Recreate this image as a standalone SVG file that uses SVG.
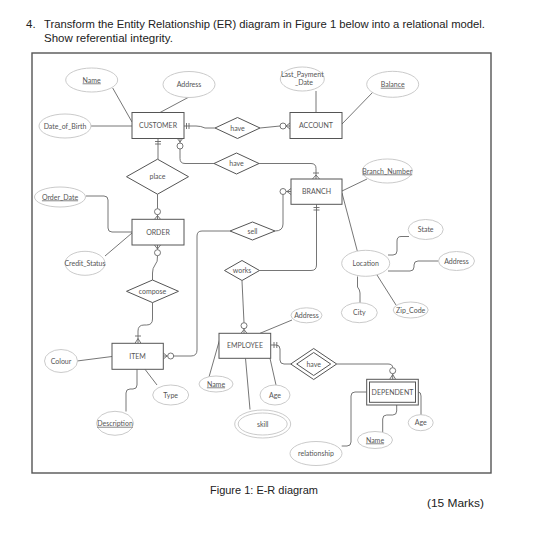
<svg xmlns="http://www.w3.org/2000/svg" width="538" height="539" viewBox="0 0 538 539">
<style>
.bg{fill:#fff}
.frame{fill:none;stroke:#555;stroke-width:1.4}
.q{font-family:"Liberation Sans",Arial,sans-serif;fill:#222}
.attr ellipse{fill:#fff;stroke:#c4c4c4;stroke-width:0.9}
.ent rect{fill:#fff;stroke:#555;stroke-width:1}
.rel polygon{fill:#fff;stroke:#555;stroke-width:1}
.lbl{font-family:Lato,"Open Sans",sans-serif;font-size:7px;fill:#555;text-anchor:middle}
.u{text-decoration:underline}
.conn path,.conn line{fill:none;stroke:#666;stroke-width:0.9}
.conn circle{fill:#fff;stroke:#666;stroke-width:0.9}
</style>
<rect class="bg" x="0" y="0" width="538" height="539"/>
<text class="q" x="26" y="28" font-size="11.5">4.</text>
<text class="q" x="44" y="28" font-size="11.5" textLength="441" lengthAdjust="spacingAndGlyphs">Transform the Entity Relationship (ER) diagram in Figure 1 below into a relational model.</text>
<text class="q" x="44" y="42" font-size="11.5">Show referential integrity.</text>
<rect class="frame" x="32" y="53" width="459" height="420"/>
<text class="q" x="210" y="494" font-size="11.5" textLength="108" lengthAdjust="spacingAndGlyphs">Figure 1: E-R diagram</text>
<text class="q" x="427" y="507" font-size="11.5" textLength="57" lengthAdjust="spacingAndGlyphs">(15 Marks)</text>

<g class="conn">
<path d="M112.7,88 L132,122"/>
<path d="M189,97 L160,112.5"/>
<path d="M91,126 H132"/>
<path d="M184,126 H196 Q201,126 205,128 H215"/>
<line x1="186.5" y1="123" x2="186.5" y2="129"/><line x1="189" y1="123" x2="189" y2="129"/>
<path d="M260,128 L280,126"/>
<circle cx="283" cy="126" r="3"/>
<path d="M286,126 H290 M286,126 L290,123 M286,126 L290,129"/>
<path d="M180,138 V143 M180,142 L177,138 M180,142 L183,138"/>
<circle cx="180" cy="146" r="3"/>
<path d="M180,149 V158.5 Q180,163.5 185,163.5 H214"/>
<path d="M259,163.5 H311 Q316,163.5 316,168.5 V179"/>
<path d="M313,173 H319 M316,175 L312.5,179 M316,175 L319.5,179"/>
<path d="M316,91 V112.5"/>
<path d="M342,124 L373,92"/>
<path d="M342,191 L367,179"/>
<circle cx="283" cy="191.5" r="3"/>
<path d="M286,191.5 H291 M287,191.5 L291,188.5 M287,191.5 L291,194.5"/>
<path d="M283,194.5 V224 Q283,231 275,231"/>
<path d="M230,231 H202 Q197,231 197,236 V350 Q197,356 191,356 H173.7"/>
<circle cx="170.7" cy="356" r="3"/>
<path d="M167.7,356 H163.3 M167,356 L163.3,353 M167,356 L163.3,359"/>
<path d="M158,138.5 V159.2"/>
<line x1="155" y1="141.5" x2="161" y2="141.5"/><line x1="155" y1="144" x2="161" y2="144"/>
<path d="M157.5,194.2 V208.7"/>
<circle cx="157.5" cy="211.7" r="3"/>
<path d="M157.5,214.7 V219.3 M157.5,215.5 L154.5,219.3 M157.5,215.5 L160.5,219.3"/>
<path d="M157.5,245 V249.7 M157.5,249 L154.5,245 M157.5,249 L160.5,245"/>
<circle cx="157.5" cy="252.7" r="3"/>
<path d="M157.5,255.7 Q158,262 155,265 Q152.5,268 152.5,273 V280"/>
<path d="M152.5,302.6 V319 Q152.5,325 146.5,325 H144 Q138,325 138,331 V343.3"/>
<path d="M135,336 H141 M138,338.5 L135,343.3 M138,338.5 L141,343.3"/>
<path d="M77,361 L112,356.5"/>
<path d="M145,369.3 L157,385"/>
<path d="M137,369.3 V385 Q137,389 133,389 H130 Q126,389 126,393 V411.5"/>
<path d="M86,196 H104 Q108,196 108,200 V228 Q108,232 112,232 H132"/>
<path d="M105,256 L132,233"/>
<path d="M316.5,204.3 V265 Q316.5,270.5 311,270.5 H259.5"/>
<line x1="313.5" y1="207.5" x2="319.5" y2="207.5"/><line x1="313.5" y1="210" x2="319.5" y2="210"/>
<path d="M242,281 L244,322.7"/>
<circle cx="244" cy="325.7" r="3"/>
<path d="M244,328.7 V333.3 M244,329.5 L241,333.3 M244,329.5 L247,333.3"/>
<path d="M260,333.3 L292,320"/>
<path d="M219.5,340 L209,377"/>
<path d="M270,358.3 L276,385"/>
<path d="M245.5,358.3 L250,409.5"/>
<path d="M270.7,345 H276 Q280,345 280,349 V360 Q280,364 284,364 H290.7"/>
<line x1="274" y1="342" x2="274" y2="348"/><line x1="276.8" y1="342" x2="276.8" y2="348"/>
<path d="M336.7,364 H388 Q392.7,364 392.7,367.7"/>
<circle cx="392.7" cy="370.7" r="3"/>
<path d="M392.7,373.7 V379.3 M392.7,374.5 L389.7,379.3 M392.7,374.5 L395.7,379.3"/>
<path d="M418.3,392 Q421,392 421,396 V415"/>
<path d="M396.7,405 V411 Q396.7,415 392.7,415 H386.7 Q382.7,415 382.7,419 V432"/>
<path d="M341.7,446 H347 Q351,446 351,442 V396 Q351,392 355,392 H366.7"/>
<path d="M342,193 L357.3,251"/>
<path d="M388,255 H393 Q397,255 397,251 V241 Q397,236.5 401,236.5 H409"/>
<path d="M388,271 H410 Q414,271 414,267 V265 Q414,261 418,261 H438.5"/>
<path d="M357.5,276.5 V287 Q360,290 360,293 V303"/>
<path d="M377,275 L396,305"/>
</g>

<g id="customer" class="ent"><rect x="132" y="112.5" width="52" height="26"/><text class="lbl" x="158" y="128">CUSTOMER</text></g>
<g id="account" class="ent"><rect x="290" y="112.5" width="52" height="26"/><text class="lbl" x="316" y="128">ACCOUNT</text></g>
<g id="branch" class="ent"><rect x="291" y="179" width="51" height="25.3"/><text class="lbl" x="316.5" y="194">BRANCH</text></g>
<g id="order" class="ent"><rect x="132" y="219.3" width="52" height="25.7"/><text class="lbl" x="158" y="234.5">ORDER</text></g>
<g id="item" class="ent"><rect x="112" y="343.3" width="51.3" height="26"/><text class="lbl" x="137.5" y="358.8">ITEM</text></g>
<g id="employee" class="ent"><rect x="219" y="333.3" width="51.7" height="25"/><text class="lbl" x="245" y="348.3">EMPLOYEE</text></g>
<g id="dependent" class="ent"><rect x="366.7" y="379.3" width="51.6" height="25.7"/><rect x="369.5" y="382" width="46" height="20.3"/><text class="lbl" x="392.5" y="394.8">DEPENDENT</text></g>

<g id="have_account" class="rel"><polygon points="215,128 237.5,117.5 260,128 237.5,138.5"/><text class="lbl" x="237.5" y="130.5">have</text></g>
<g id="have_branch" class="rel"><polygon points="214,163.5 236.5,153 259,163.5 236.5,174"/><text class="lbl" x="236.5" y="166">have</text></g>
<g id="place" class="rel"><polygon points="126.5,176.7 157.5,159.2 188.5,176.7 157.5,194.2"/><text class="lbl" x="157.5" y="179.2">place</text></g>
<g id="sell" class="rel"><polygon points="230,231 252.5,222 275,231 252.5,240"/><text class="lbl" x="252.5" y="233.5">sell</text></g>
<g id="works" class="rel"><polygon points="224.5,270.5 242,260.5 259.5,270.5 242,280.5"/><text class="lbl" x="242" y="273">works</text></g>
<g id="compose" class="rel"><polygon points="126.5,291.3 152.5,280 178.5,291.3 152.5,302.6"/><text class="lbl" x="152.5" y="293.8">compose</text></g>
<g id="have_dependent" class="rel"><polygon points="290.7,364 313.7,348.5 336.7,364 313.7,379.5"/><polygon points="296.7,364 313.7,352.5 330.7,364 313.7,375.5"/><text class="lbl" x="313.7" y="366.5">have</text></g>

<g id="cust_name" class="attr"><ellipse cx="91.7" cy="80" rx="26" ry="12"/><text class="lbl u" x="91.7" y="82.5">Name</text></g>
<g id="cust_address" class="attr"><ellipse cx="189" cy="84.5" rx="26" ry="13"/><text class="lbl" x="189" y="87">Address</text></g>
<g id="cust_dob" class="attr"><ellipse cx="65" cy="126" rx="26" ry="12"/><text class="lbl" x="65" y="128.5">Date_of_Birth</text></g>
<g id="last_payment" class="attr"><ellipse cx="302.3" cy="79" rx="22" ry="12"/><text class="lbl" x="302.3" y="77" font-size="6">Last_Payment</text><text class="lbl" x="304" y="85" font-size="6">_Date</text></g>
<g id="balance" class="attr"><ellipse cx="392.7" cy="84.3" rx="26" ry="13"/><text class="lbl u" x="392.7" y="86.8">Balance</text></g>
<g id="branch_number" class="attr"><ellipse cx="387.3" cy="171" rx="25" ry="12"/><text class="lbl u" x="387.3" y="173.5">Branch_Number</text></g>
<g id="order_date" class="attr"><ellipse cx="60" cy="197" rx="25.5" ry="10"/><text class="lbl u" x="60" y="199.5">Order_Date</text></g>
<g id="credit_status" class="attr"><ellipse cx="85" cy="263.3" rx="20" ry="12"/><text class="lbl" x="85" y="265.8">Credit_Status</text></g>
<g id="colour" class="attr"><ellipse cx="61" cy="361" rx="16.5" ry="11.5"/><text class="lbl" x="61" y="363.5">Colour</text></g>
<g id="type" class="attr"><ellipse cx="170.7" cy="395" rx="18" ry="10"/><text class="lbl" x="170.7" y="397.5">Type</text></g>
<g id="description" class="attr"><ellipse cx="115" cy="423.3" rx="18.5" ry="12"/><text class="lbl u" x="115" y="425.8">Description</text></g>
<g id="emp_address" class="attr"><ellipse cx="306.5" cy="315.3" rx="15.5" ry="7.5"/><text class="lbl" x="306.5" y="317.8">Address</text></g>
<g id="emp_name" class="attr"><ellipse cx="216" cy="384" rx="17" ry="8"/><text class="lbl u" x="216" y="386.5">Name</text></g>
<g id="emp_age" class="attr"><ellipse cx="275" cy="395" rx="15" ry="10"/><text class="lbl" x="275" y="397.5">Age</text></g>
<g id="skill" class="attr"><ellipse cx="262.7" cy="424" rx="28" ry="14"/><ellipse cx="262.7" cy="424" rx="24.5" ry="11"/><text class="lbl" x="262.7" y="426.5">skill</text></g>
<g id="location" class="attr"><ellipse cx="365.7" cy="263.3" rx="24" ry="13"/><text class="lbl" x="365.7" y="265.8">Location</text></g>
<g id="state" class="attr"><ellipse cx="425.7" cy="229.5" rx="17.5" ry="10"/><text class="lbl" x="425.7" y="232">State</text></g>
<g id="loc_address" class="attr"><ellipse cx="456.5" cy="261" rx="18" ry="9.5"/><text class="lbl" x="456.5" y="263.5">Address</text></g>
<g id="city" class="attr"><ellipse cx="359.3" cy="312.7" rx="18" ry="10"/><text class="lbl" x="359.3" y="315.2">City</text></g>
<g id="zip_code" class="attr"><ellipse cx="410.7" cy="310" rx="17.5" ry="8"/><text class="lbl" x="410.7" y="312.5">Zip_Code</text></g>
<g id="dep_age" class="attr"><ellipse cx="420.7" cy="422.7" rx="12.5" ry="8"/><text class="lbl" x="420.7" y="425.2">Age</text></g>
<g id="dep_name" class="attr"><ellipse cx="375" cy="440" rx="17.5" ry="8.5"/><text class="lbl u" x="375" y="442.5">Name</text></g>
<g id="relationship" class="attr"><ellipse cx="316" cy="453.5" rx="26" ry="12"/><text class="lbl" x="316" y="456">relationship</text></g>
</svg>
